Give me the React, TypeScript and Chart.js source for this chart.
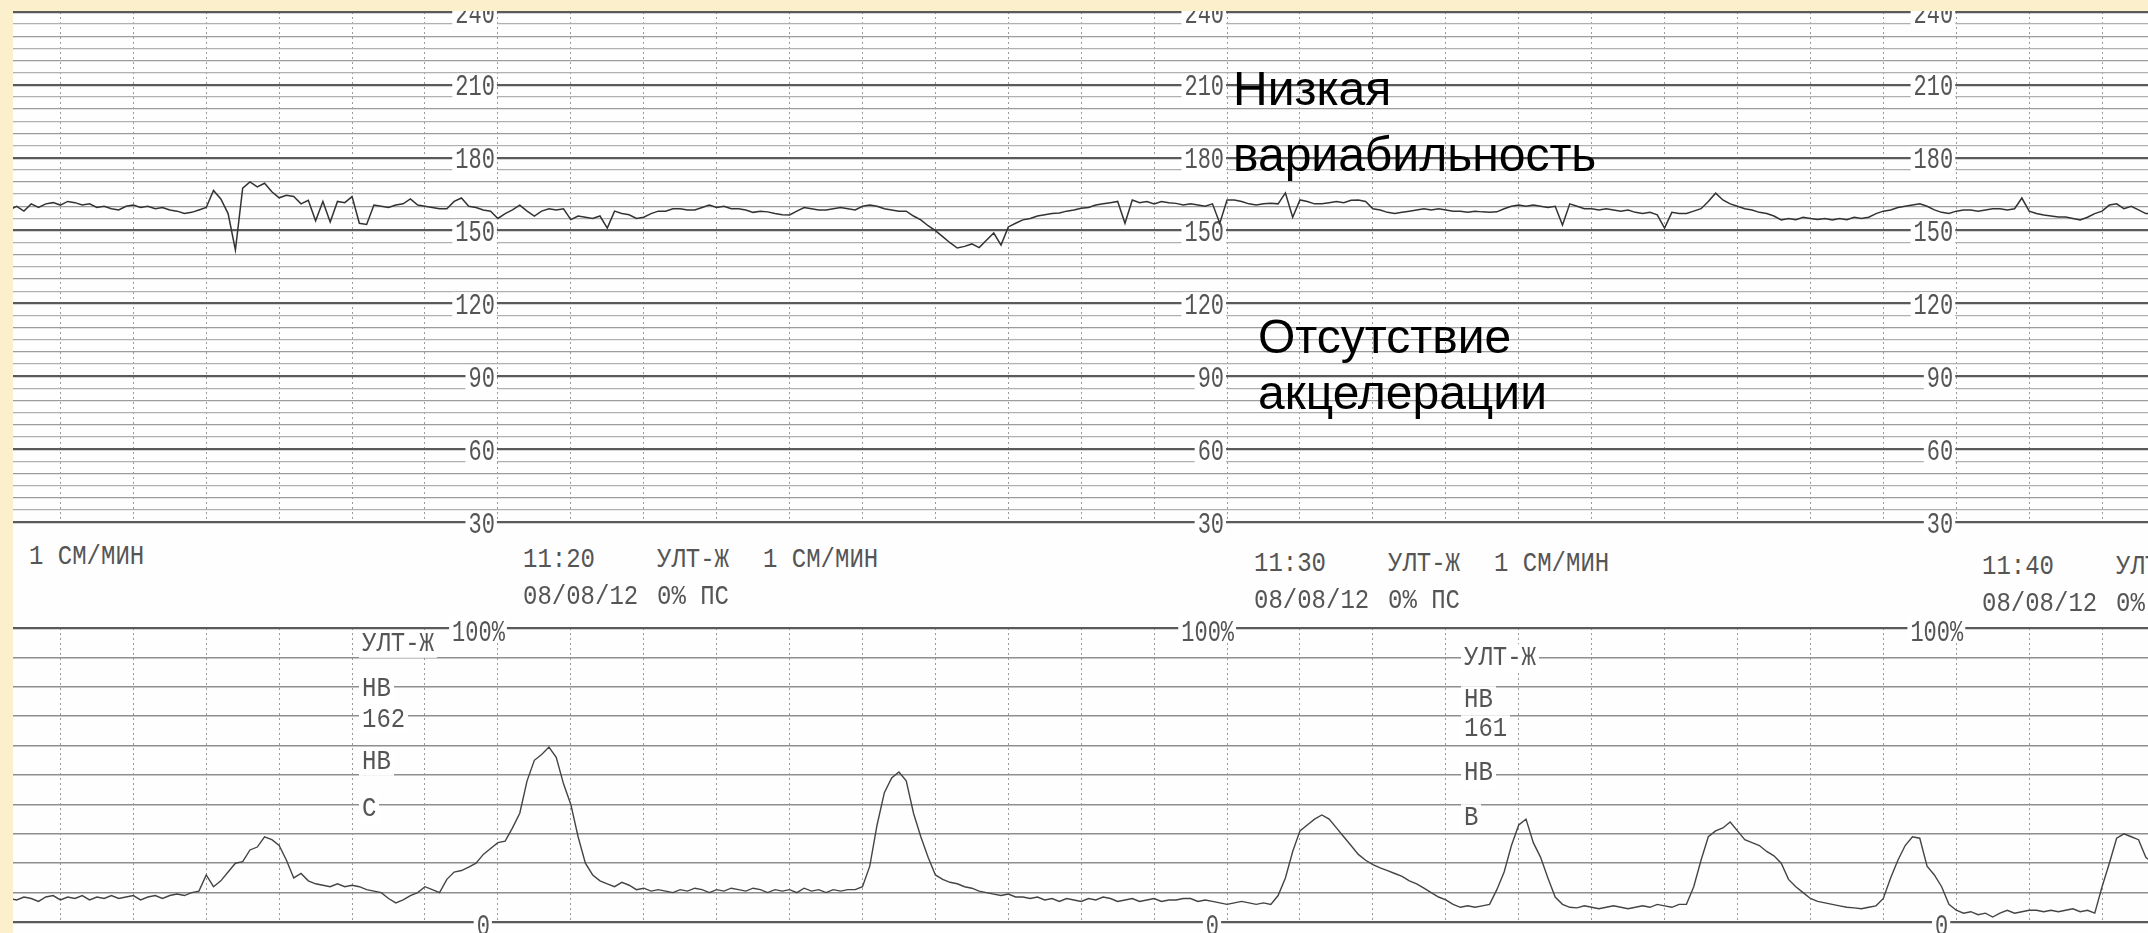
import React, { useEffect, useRef } from "react";
import { Chart, registerables } from "chart.js";

Chart.register(...registerables);

// ---------- data (time in minutes after 11:00, sampled every 0.1 min) ----------
const SAMPLE_START = 13.3;
const SAMPLE_STEP = 0.1;
const X_MIN = 13.35;
const X_MAX = 42.63;

// Fetal heart rate, bpm
const fhrBpm = [
  158.5, 160, 158, 161, 159.5, 161, 161.5, 160.5, 162, 161.5,
  160.5, 161, 159.5, 160, 159, 158.5, 160, 160.5, 159.5, 160,
  159, 159.5, 158.5, 158, 157, 157.5, 158.5, 159.5, 166.5, 163,
  157, 142, 167.5, 170, 168, 169.5, 166, 163.5, 164.5, 164,
  161, 162.5, 154, 162, 153.5, 162, 161.5, 164, 153, 152.5,
  160.5, 160, 159.5, 160.5, 161, 163, 160.5, 160, 159.5, 159,
  159, 162, 163.4, 160, 159.5, 158.5, 158, 155, 157, 158.5,
  160.5, 158, 156, 158, 159, 158.5, 159, 154.5, 156, 155.5,
  155, 156, 151, 158, 157, 156.5, 155, 155.5, 157, 158,
  158, 159, 159, 158.5, 158.5, 159.5, 160.5, 159.5, 160, 159,
  159, 158.5, 157.5, 158, 157.7, 157, 156.5, 156.4, 158, 159.5,
  159, 158.5, 158.5, 159, 159.5, 159, 158.5, 160, 160.5, 160,
  159, 158.5, 158, 158, 156, 154.4, 152, 150, 147.5, 145,
  142.8, 143.5, 144.5, 143, 146, 149, 144, 151.5, 153, 154.4,
  155, 156, 156.5, 157, 157.2, 158, 158.5, 159.2, 159.5, 160.5,
  161, 161.5, 162, 153, 162.6, 161.5, 162, 161, 162, 161.5,
  161.2, 160.5, 161, 160.5, 160, 161, 153, 162.6, 162.6, 162,
  161, 160.5, 161, 161.2, 161, 165.5, 155.5, 162.6, 162, 161,
  161, 161.5, 162, 161.5, 162.5, 162.6, 162, 159, 158.5, 157.5,
  157, 157.5, 158, 158.5, 159, 158.5, 159, 158.5, 158, 158,
  157.5, 158, 157.7, 157.5, 157.7, 159, 160, 160.5, 160, 160.5,
  160, 159.5, 160, 152.3, 161, 160, 159, 159, 158.5, 159,
  158.5, 158, 158.5, 157.5, 157, 157.5, 156.5, 151, 157.5, 157,
  157, 158, 159, 162, 165.4, 162.6, 161, 160, 159, 158.5,
  157.5, 157, 156, 154.4, 155, 154.5, 155.5, 155, 154.6, 155,
  154.4, 155, 154.5, 155.5, 155, 155.5, 157, 158, 158.5, 159.5,
  160, 160.5, 161, 160, 158.5, 157.5, 157, 158, 158.5, 158.5,
  158, 158.5, 159, 159, 158.5, 159, 163.4, 158, 157, 156.4,
  156, 155.6, 155.6, 155, 154.4, 155.5, 157, 158, 160.5, 161,
  159, 160, 158.5, 157, 157,
];

// Uterine activity, %
const uaPct = [
  8, 7.5, 8.5, 8, 7, 8.5, 9, 7.5, 8.5, 8,
  9, 7.5, 8.5, 8, 9, 8, 8.5, 9, 7.5, 8.5,
  9, 8, 9, 9.5, 9, 10, 10.5, 16, 12, 14,
  17, 20, 20.5, 24.5, 25.5, 29, 28, 26, 21, 15,
  16.5, 14, 13, 12.5, 12, 13, 12, 12.5, 12, 11,
  10.5, 10, 8, 6.5, 7.5, 9, 10, 12, 11, 10,
  14.5, 17, 17.5, 18.7, 20, 23, 25, 27, 27.5, 32,
  37, 48, 55, 57, 59.5, 56, 47, 40, 29, 20,
  16, 14, 13, 12, 13.5, 12.5, 11, 11.5, 10.5, 11,
  10.5, 10, 11, 10.5, 11.5, 11, 10, 11, 10.5, 11.5,
  11, 10.5, 11.5, 11, 10, 11, 10.5, 11, 10, 11.5,
  10.5, 11, 10, 11, 10.5, 11, 11, 12, 19, 33,
  44, 49, 51, 48, 37, 29, 22, 16, 14.5, 13.5,
  13, 12, 11.5, 10.5, 10, 9.5, 9, 9.5, 8.5, 8.5,
  8, 8.5, 7.5, 8, 7, 8, 7.5, 7, 8, 7.5,
  8.5, 8, 7, 7.5, 8, 7, 7.5, 8, 7, 7.5,
  7.5, 8, 8, 7, 7.5, 7, 6.5, 6, 6.5, 7,
  6.5, 6, 6.5, 6, 9, 15, 24, 31, 33, 35,
  36.4, 35, 32, 29, 26, 23, 21, 19.5, 18.4, 17.5,
  16.5, 15.5, 14, 13, 11.5, 10, 8.5, 7.5, 6, 5,
  5.5, 5, 5.5, 6, 11, 17, 26, 33, 35, 27,
  22, 15, 8.5, 6, 5, 4.8, 5.5, 5, 4.5, 5,
  5.5, 5, 4.5, 5, 5.5, 5, 6, 5.5, 5, 6,
  6, 12, 21, 29, 31, 32, 34, 31, 28, 27,
  26, 24, 22.5, 20, 14.5, 12, 10, 8, 7, 6.5,
  6, 5.5, 5, 4.8, 4.5, 5, 5.5, 8, 15, 21,
  26, 29, 28.5, 19, 16, 12, 6, 4, 3, 3.5,
  2.5, 3, 1.7, 3, 4, 3, 3.5, 4, 4, 3.5,
  4, 3.5, 4, 4.5, 3.5, 4, 3, 12, 20, 28.5,
  30, 29, 28, 22, 20,
];

// axis labels
const fhrLabelValues = [240, 210, 180, 150, 120, 90, 60, 30];
const uaLabelValues = [100, 0];
const uaLabelTexts = ["100%", "0"];
const labelColumns = [20, 30, 40]; // minutes after 11:00

const stampTimes = ["11:20", "11:30", "11:40"];
const stampDate = "08/08/12";

// ---------- styling ----------
const BEIGE = "#fcefcb";
const PRINT = "#555555";

const minuteTicks: number[] = [];
for (let m = 14; m <= 42; m++) minuteTicks.push(m);
const fhrTicks: number[] = [];
for (let v = 30; v <= 240; v += 5) fhrTicks.push(v);
const uaTicks: number[] = [];
for (let v = 0; v <= 100; v += 10) uaTicks.push(v);

const setTicks = (vals: number[]) => (scale: any) => {
  scale.ticks = vals.map((v) => ({ value: v }));
};

const xScale = {
  type: "linear" as const,
  min: X_MIN,
  max: X_MAX,
  afterBuildTicks: setTicks(minuteTicks),
  ticks: { display: false },
  grid: { color: "#9a9a9a", lineWidth: 1, drawTicks: false },
  border: { display: false, dash: [2, 3] },
};

const fhrLabelPlugin = {
  id: "fhrLabels",
  beforeDatasetsDraw(chart: any) {
    const { ctx, scales } = chart;
    const x = scales.x;
    const y = scales.y;
    ctx.save();
    ctx.font = '22px "Liberation Mono", monospace';
    ctx.textAlign = "right";
    ctx.textBaseline = "middle";
    for (const col of labelColumns) {
      const px = x.getPixelForValue(col);
      for (const v of fhrLabelValues) {
        const py = y.getPixelForValue(v);
        const txt = String(v);
        const w = ctx.measureText(txt).width;
        ctx.fillStyle = "#ffffff";
        ctx.fillRect(px - 3 - w - 3, py - 11, w + 5, 25);
        ctx.fillStyle = PRINT;
        ctx.save();
        ctx.translate(px - 3, py + 3);
        ctx.scale(1, 1.3);
        ctx.fillText(txt, 0, 0);
        ctx.restore();
      }
    }
    ctx.restore();
  },
};

const uaLabelPlugin = {
  id: "uaLabels",
  beforeDatasetsDraw(chart: any) {
    const { ctx, scales } = chart;
    const x = scales.x;
    const y = scales.y;
    ctx.save();
    ctx.font = '22px "Liberation Mono", monospace';
    ctx.textAlign = "right";
    ctx.textBaseline = "middle";
    for (const col of labelColumns) {
      const px = x.getPixelForValue(col);
      uaLabelValues.forEach((v, k) => {
        const txt = uaLabelTexts[k];
        const py = y.getPixelForValue(v);
        const w = ctx.measureText(txt).width;
        const right = v === 100 ? px + 7 : px - 8;
        ctx.fillStyle = "#ffffff";
        ctx.fillRect(right - w - 3, py - 11, w + 5, 25);
        ctx.fillStyle = PRINT;
        ctx.save();
        ctx.translate(right, py + 5);
        ctx.scale(1, 1.3);
        ctx.fillText(txt, 0, 0);
        ctx.restore();
      });
    }
    ctx.restore();
  },
};

function makeFhrChart(canvas: HTMLCanvasElement) {
  return new Chart(canvas, {
    type: "line",
    data: {
      datasets: [
        {
          data: fhrBpm.map((v, i) => ({ x: SAMPLE_START + i * SAMPLE_STEP, y: v })),
          borderColor: "#333333",
          borderWidth: 1.5,
          pointRadius: 0,
          tension: 0,
          fill: false,
        },
      ],
    },
    options: {
      animation: false,
      responsive: false,
      events: [],
      layout: { padding: { top: 12, bottom: 13, left: 0, right: 0 } },
      plugins: { legend: { display: false }, tooltip: { enabled: false } },
      scales: {
        x: xScale,
        y: {
          type: "linear",
          min: 30,
          max: 240,
          afterBuildTicks: setTicks(fhrTicks),
          ticks: { display: false },
          border: { display: false },
          grid: {
            drawTicks: false,
            color: (c: any) => {
              const v = c.tick ? c.tick.value : 0;
              if (v % 30 === 0) return "#5a5a5a";
              if (v % 10 === 0) return "#9c9c9c";
              return "#b0b0b0";
            },
            lineWidth: (c: any) => {
              const v = c.tick ? c.tick.value : 0;
              if (v % 30 === 0) return 2.2;
              return 1.3;
            },
          },
        },
      },
    },
    plugins: [fhrLabelPlugin],
  } as any);
}

function makeUaChart(canvas: HTMLCanvasElement) {
  return new Chart(canvas, {
    type: "line",
    data: {
      datasets: [
        {
          data: uaPct.map((v, i) => ({ x: SAMPLE_START + i * SAMPLE_STEP, y: v })),
          borderColor: "#444444",
          borderWidth: 1.4,
          pointRadius: 0,
          tension: 0,
          fill: false,
        },
      ],
    },
    options: {
      animation: false,
      responsive: false,
      events: [],
      layout: { padding: { top: 28, bottom: 11, left: 0, right: 0 } },
      plugins: { legend: { display: false }, tooltip: { enabled: false } },
      scales: {
        x: xScale,
        y: {
          type: "linear",
          min: 0,
          max: 100,
          afterBuildTicks: setTicks(uaTicks),
          ticks: { display: false },
          border: { display: false },
          grid: {
            drawTicks: false,
            color: (c: any) => {
              const v = c.tick ? c.tick.value : 0;
              return v === 0 || v === 100 ? "#5a5a5a" : "#8e8e8e";
            },
            lineWidth: (c: any) => {
              const v = c.tick ? c.tick.value : 0;
              return v === 0 || v === 100 ? 2.2 : 1.6;
            },
          },
        },
      },
    },
    plugins: [uaLabelPlugin],
  } as any);
}

const printer: React.CSSProperties = {
  position: "absolute",
  fontFamily: '"Liberation Mono", "DejaVu Sans Mono", monospace',
  fontSize: 24,
  lineHeight: "24px",
  color: PRINT,
  whiteSpace: "pre",
  transform: "scaleY(1.15)",
  transformOrigin: "left center",
};

const note: React.CSSProperties = {
  position: "absolute",
  fontFamily: '"Liberation Sans", Arial, sans-serif',
  fontSize: 48,
  lineHeight: "48px",
  color: "#000",
  whiteSpace: "pre",
};

function P({ x, y, t, bg }: { x: number; y: number; t: string; bg?: boolean }) {
  return (
    <div
      style={{
        ...printer,
        left: x,
        top: y - 12,
        background: bg ? "#fff" : "transparent",
        padding: bg ? "0 3px" : 0,
        marginLeft: bg ? -3 : 0,
      }}
    >
      {t}
    </div>
  );
}

export default function App() {
  const fhrRef = useRef<HTMLCanvasElement>(null);
  const uaRef = useRef<HTMLCanvasElement>(null);

  useEffect(() => {
    const c1 = makeFhrChart(fhrRef.current!);
    const c2 = makeUaChart(uaRef.current!);
    return () => {
      c1.destroy();
      c2.destroy();
    };
  }, []);

  const colX = [523, 1254, 1982];
  const colY = [560, 564, 567];

  return (
    <div
      style={{
        position: "absolute",
        left: 0,
        top: 0,
        width: 2148,
        height: 933,
        overflow: "hidden",
        background: BEIGE,
      }}
    >
      <div style={{ position: "absolute", left: 13, top: 11, width: 2135, height: 922, background: "#fefefe" }} />
      <canvas ref={fhrRef} width={2135} height={535} style={{ position: "absolute", left: 13, top: 0 }} />
      <canvas ref={uaRef} width={2135} height={333} style={{ position: "absolute", left: 13, top: 600 }} />
      <div style={{ position: "absolute", left: 0, top: 0, width: 2148, height: 11, background: BEIGE }} />

      <P x={29} y={557} t="1 СМ/МИН" />
      {stampTimes.map((tm, k) => (
        <React.Fragment key={tm}>
          <P x={colX[k]} y={colY[k]} t={tm} />
          <P x={colX[k] + 134} y={colY[k]} t="УЛТ-Ж" />
          <P x={colX[k] + 240} y={colY[k]} t="1 СМ/МИН" />
          <P x={colX[k]} y={colY[k] + 37} t={stampDate} />
          <P x={colX[k] + 134} y={colY[k] + 37} t="0% ПС" />
        </React.Fragment>
      ))}

      <P x={362} y={644} t="УЛТ-Ж" bg />
      <P x={362} y={689} t="НВ" bg />
      <P x={362} y={720} t="162" bg />
      <P x={362} y={762} t="НВ" bg />
      <P x={362} y={809} t="С" bg />

      <P x={1464} y={658} t="УЛТ-Ж" bg />
      <P x={1464} y={700} t="НВ" bg />
      <P x={1464} y={729} t="161" bg />
      <P x={1464} y={773} t="НВ" bg />
      <P x={1464} y={818} t="В" bg />

      <div style={{ ...note, left: 1233, top: 65 }}>Низкая</div>
      <div style={{ ...note, left: 1233, top: 131 }}>вариабильность</div>
      <div style={{ ...note, left: 1258, top: 313 }}>Отсутствие</div>
      <div style={{ ...note, left: 1258, top: 369 }}>акцелерации</div>
    </div>
  );
}
